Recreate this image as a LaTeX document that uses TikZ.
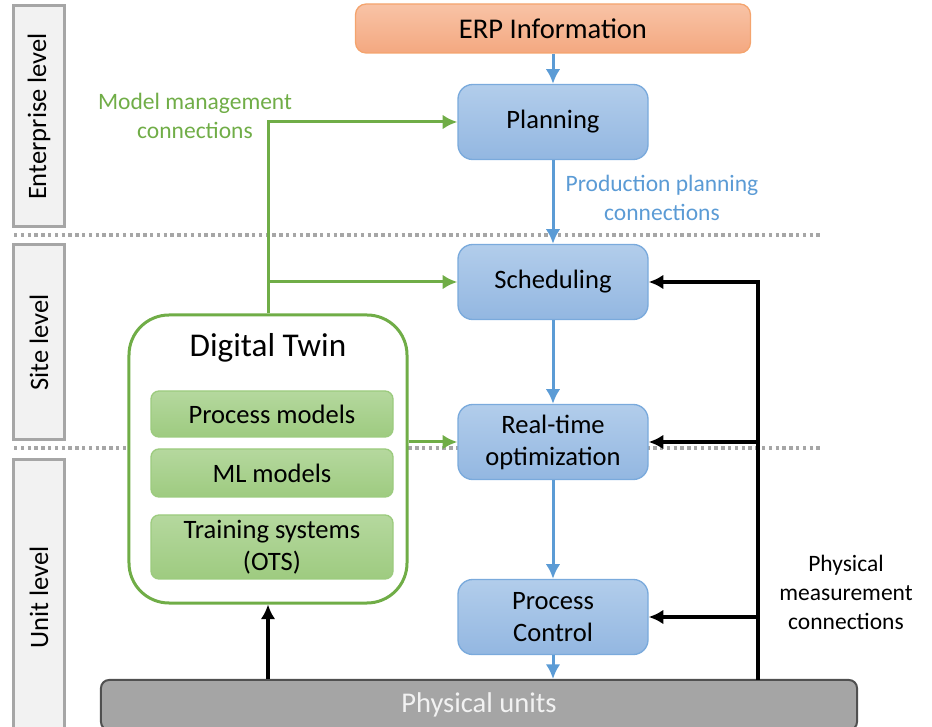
\documentclass[tikz,border=0pt]{standalone}
\usepackage{fontspec}
\setmainfont{Carlito}
\usetikzlibrary{arrows.meta,shapes}
\definecolor{bluearr}{HTML}{5B9BD5}
\definecolor{blueedge}{HTML}{7AAADC}
\definecolor{bluetop}{HTML}{B2CDEB}
\definecolor{bluebot}{HTML}{93B7E1}
\definecolor{erpedge}{HTML}{F4A46E}
\definecolor{erptop}{HTML}{F8C3A6}
\definecolor{erpbot}{HTML}{F4A880}
\definecolor{dtgreen}{HTML}{70AD47}
\definecolor{greenedge}{HTML}{9CCB7E}
\definecolor{greentop}{HTML}{B5D89E}
\definecolor{greenbot}{HTML}{9ECB80}
\definecolor{levelgray}{HTML}{A6A6A6}
\definecolor{levelfill}{HTML}{F2F2F2}
\definecolor{physfill}{HTML}{A5A5A5}
\definecolor{physedge}{HTML}{505050}
\newcommand{\lblfont}{\fontsize{17.7}{21.8}\selectfont}

\begin{document}
\begin{tikzpicture}[>={Latex[length=11bp,width=11bp]}, x=0.75bp, y=0.75bp]
      \tikzstyle{every node}=[font=\fontsize{20}{24}\selectfont]
      \tikzstyle{levelbox}=[draw=levelgray, line width=2.25bp, fill=levelfill, rotate=90, minimum height=37.5bp, inner sep=0pt]
      \tikzstyle{stepbox}=[draw=blueedge, line width=1bp, rounded corners=11bp, top color=bluetop, bottom color=bluebot, minimum width=142.5bp, minimum height=56.25bp, align=center, inner sep=0pt]
      \tikzstyle{modelbox}=[draw=greenedge, line width=1bp, rounded corners=6bp, top color=greentop, bottom color=greenbot, minimum width=181.5bp, align=center, inner sep=0pt]
      \tikzstyle{sepline}=[levelgray, line width=2.5bp, dash pattern=on 2.5bp off 2.6bp]
      \tikzstyle{bluelink}=[->, bluearr, line width=2.25bp]
      \tikzstyle{greenlink}=[->, dtgreen, line width=2.25bp]
      \tikzstyle{measlink}=[->, black, line width=3bp]
      \useasboundingbox (0,0) rectangle (932,727);
      %%
  \draw [sepline] (14,492) -- (820,492);
  \draw [sepline] (14,279) -- (820,279);
  \node (lv_ent) at (39,610.5) [levelbox, minimum width=165.75bp] {Enterprise level};
  \node (lv_site) at (39,384.5) [levelbox, minimum width=146.25bp] {Site level};
  \node (lv_unit) at (39,129.5) [levelbox, minimum width=206.25bp] {Unit level};
  \node (v_erp) at (553,698.5) [draw=erpedge, line width=1bp, rounded corners=8bp, top color=erptop, bottom color=erpbot, minimum width=296.25bp, minimum height=36.75bp, font=\fontsize{21.5}{26}\selectfont] {ERP Information};
  \node (v_plan) at (553,605) [stepbox] {Planning};
  \node (v_sched) at (553,445) [stepbox] {Scheduling};
  \node (v_rto) at (553,285) [stepbox] {Real-time\\optimization};
  \node (v_pc) at (553,110) [stepbox] {Process\\Control};
  \node (v_phys) at (479,22) [draw=physedge, line width=1.5bp, rounded corners=6bp, fill=physfill, text=levelfill, minimum width=567bp, minimum height=37.5bp, font=\fontsize{21.5}{26}\selectfont] {Physical units};
  \node (v_dt) at (268,268) [draw=dtgreen, line width=2.25bp, rounded corners=30bp, fill=white, minimum width=208.5bp, minimum height=216bp] {};
  \node (v_dtname) at (268,379) [font=\fontsize{25}{30}\selectfont] {Digital Twin};
  \node (v_pm) at (272,313) [modelbox, minimum height=34.5bp] {Process models};
  \node (v_ml) at (272,254) [modelbox, minimum height=36bp] {ML models};
  \node (v_ots) at (272,180) [modelbox, minimum height=48bp] {Training systems\\(OTS)};
  \node (l_model) at (195,611.5) [text=dtgreen, font=\lblfont, align=center] {Model management\\connections};
  \node (l_prod) at (662,529.5) [text=bluearr, font=\lblfont, align=center] {Production planning\\connections};
  \node (l_meas) at (846,134.5) [font=\lblfont, align=center] {Physical\\measurement\\connections};
  \coordinate (c_meas) at (758,47);
  %
  \draw [bluelink] (v_erp) -- (v_plan);
  \draw [bluelink] (v_plan) -- (v_sched);
  \draw [bluelink] (v_sched) -- (v_rto);
  \draw [bluelink] (v_rto) -- (v_pc);
  \draw [bluelink] (v_pc) -- (v_pc |- v_phys.north);
  \draw [greenlink] (v_dt.north) |- (v_plan.west);
  \draw [greenlink] (v_dt.north |- v_sched.west) -- (v_sched.west);
  \draw [greenlink] (v_dt.east |- v_rto.west) -- (v_rto.west);
  \draw [measlink] (c_meas) |- (v_sched.east);
  \draw [measlink] (c_meas |- v_rto.east) -- (v_rto.east);
  \draw [measlink] (c_meas |- v_pc.east) -- (v_pc.east);
  \draw [measlink] (v_phys.north -| v_dt.south) -- (v_dt.south);
%
    \end{tikzpicture}
\end{document}
